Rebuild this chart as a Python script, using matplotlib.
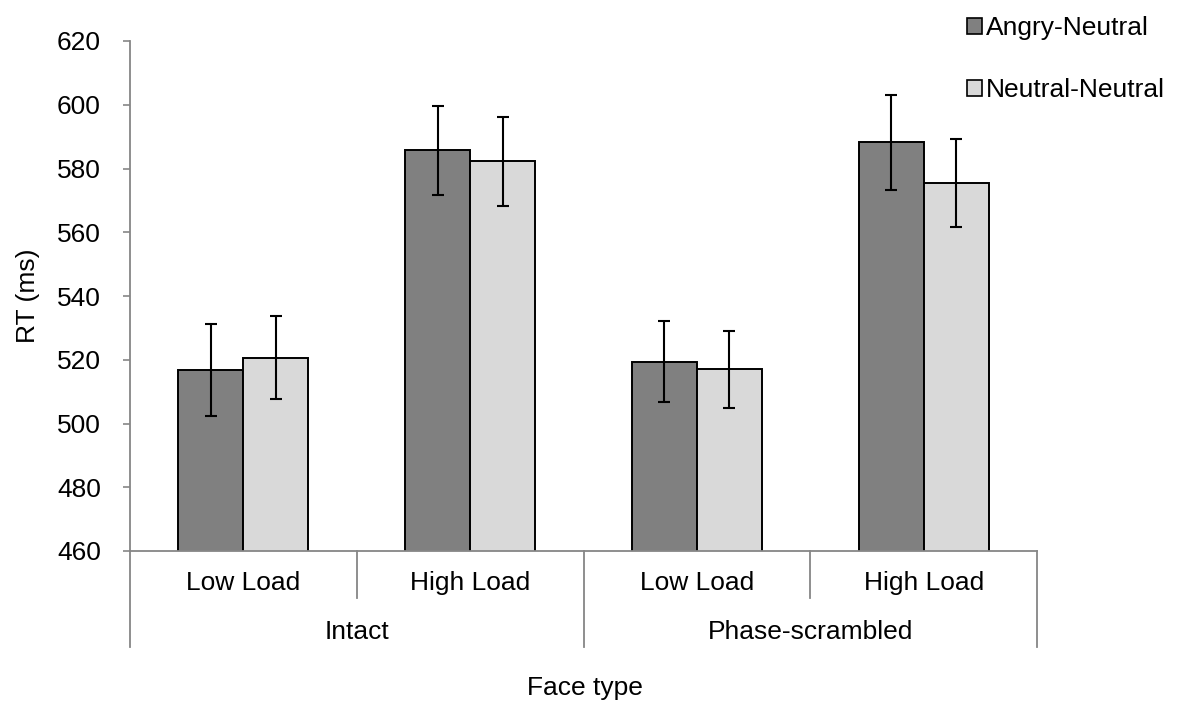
import matplotlib
matplotlib.use("Agg")
import matplotlib.pyplot as plt
from matplotlib.patches import Patch
import numpy as np

plt.rcParams['font.family'] = ['Liberation Sans', 'DejaVu Sans']

# condition labels (two-level axis)
load_labels = ['Low Load', 'High Load', 'Low Load', 'High Load']
face_labels = ['Intact', 'Phase-scrambled']

# mean RT and error per condition
angry_neutral = [516.8, 585.7, 519.4, 588.2]
angry_err = [14.4, 14.0, 12.8, 15.0]
neutral_neutral = [520.6, 582.2, 517.0, 575.3]
neutral_err = [13.0, 14.0, 12.1, 13.8]

grey = '#868686'
dark = '#808080'
light = '#d9d9d9'
fs = 19

fig = plt.figure(figsize=(11.77, 7.03), dpi=100)
ax = fig.add_axes([130/1177, 1-551/703, (1037-130)/1177, (551-41)/703])

x = np.arange(len(load_labels)) + 0.5
w = 0.287

ax.bar(x - w/2, angry_neutral, w, color=dark, edgecolor='black', linewidth=1.4,
       yerr=angry_err, capsize=4.5, error_kw=dict(elinewidth=1.5, capthick=1.5, ecolor='black'),
       label='Angry-Neutral', zorder=2)
ax.bar(x + w/2, neutral_neutral, w, color=light, edgecolor='black', linewidth=1.4,
       yerr=neutral_err, capsize=4.5, error_kw=dict(elinewidth=1.5, capthick=1.5, ecolor='black'),
       label='Neutral-Neutral', zorder=2)

ax.set_ylim(460, 620)
ax.set_xlim(0, 4)
ax.set_yticks(np.arange(460, 621, 20))
ax.tick_params(axis='y', labelsize=fs, length=5, color=grey, width=1.2, pad=16)
ax.set_xticks([])

for s in ['top', 'right']:
    ax.spines[s].set_visible(False)
for s in ['left', 'bottom']:
    ax.spines[s].set_color(grey)
    ax.spines[s].set_linewidth(1.3)

ax.set_ylabel('RT (ms)', fontsize=fs)
ax.yaxis.set_label_coords(-0.099, 0.5)

# hierarchical category axis below the plot
trans = ax.get_xaxis_transform()
h1 = -47/510
h2 = -96/510
for xb in [0, 1, 2, 3, 4]:
    y_end = h2 if xb % 2 == 0 else h1
    ax.plot([xb, xb], [0, y_end], color=grey, lw=1.3, transform=trans, clip_on=False)
for xi, lab in zip(x, load_labels):
    ax.text(xi, -32/510, lab, transform=trans, ha='center', va='center', fontsize=fs)
for i, lab in enumerate(face_labels):
    ax.text(2*i + 1, -81/510, lab, transform=trans, ha='center', va='center', fontsize=fs)

fig.text(585/1177, 1-688/703, 'Face type', ha='center', va='center', fontsize=fs)

handles = [Patch(facecolor=dark, edgecolor='black', linewidth=1.2),
           Patch(facecolor=light, edgecolor='black', linewidth=1.2)]
fig.legend(handles, ['Angry-Neutral', 'Neutral-Neutral'], loc='upper left',
           bbox_to_anchor=(967/1177, 1-16/703), frameon=False, fontsize=fs,
           handlelength=0.55, handleheight=0.55, handletextpad=0.15, labelspacing=1.45,
           borderaxespad=0, borderpad=0)

fig.savefig('out.png', dpi=100)
